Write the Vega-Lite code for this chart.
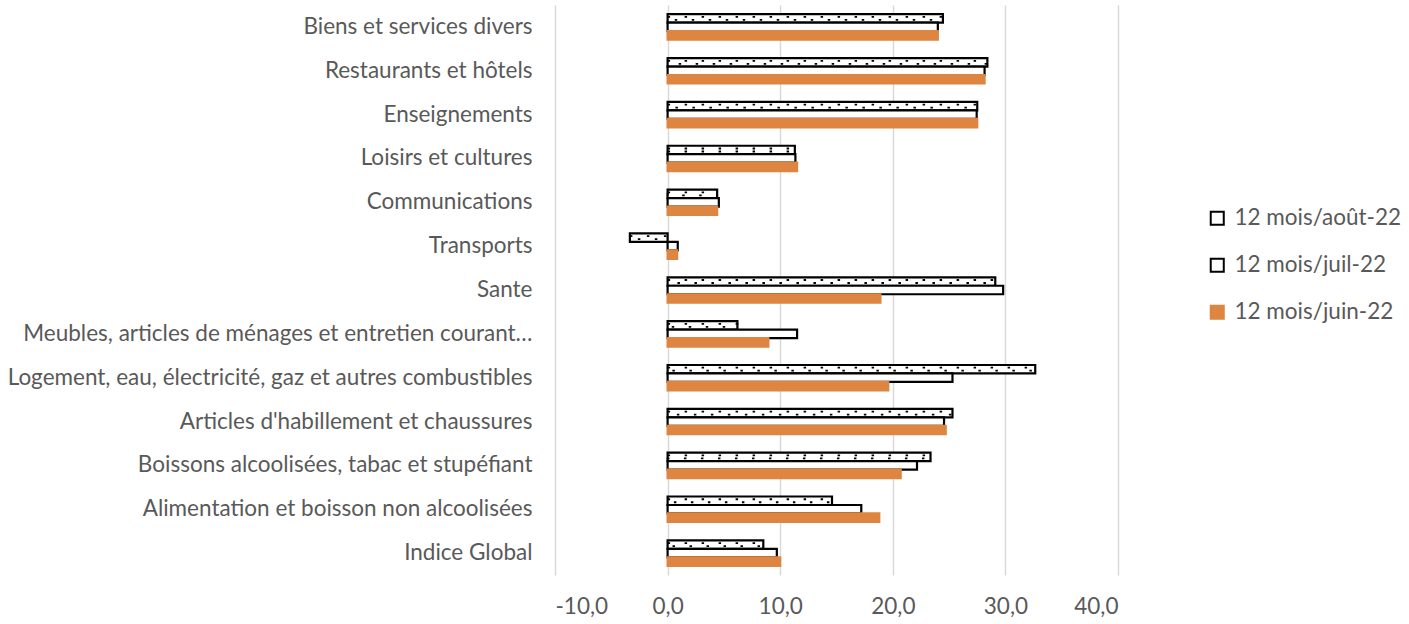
{
  "$schema": "https://vega.github.io/schema/vega-lite/v6.json",
  "autosize": {"type": "none"},
  "padding": {"left": 555, "top": 5, "right": 291, "bottom": 49},
  "width": 563,
  "height": 570,
  "background": "white",
  "config": {
    "view": {"stroke": null},
    "font": "Lato",
    "axis": {"labelFont": "Lato", "labelColor": "#595959"},
    "legend": {"labelFont": "Lato", "labelColor": "#595959"}
  },
  "data": {
    "values": [
      {"cat": "Biens et services divers", "serie": "12 mois/août-22", "v": 24.45},
      {"cat": "Biens et services divers", "serie": "12 mois/juil-22", "v": 24.0},
      {"cat": "Biens et services divers", "serie": "12 mois/juin-22", "v": 24.0},
      {"cat": "Restaurants et hôtels", "serie": "12 mois/août-22", "v": 28.4},
      {"cat": "Restaurants et hôtels", "serie": "12 mois/juil-22", "v": 28.15},
      {"cat": "Restaurants et hôtels", "serie": "12 mois/juin-22", "v": 28.15},
      {"cat": "Enseignements", "serie": "12 mois/août-22", "v": 27.5},
      {"cat": "Enseignements", "serie": "12 mois/juil-22", "v": 27.45},
      {"cat": "Enseignements", "serie": "12 mois/juin-22", "v": 27.5},
      {"cat": "Loisirs et cultures", "serie": "12 mois/août-22", "v": 11.3},
      {"cat": "Loisirs et cultures", "serie": "12 mois/juil-22", "v": 11.35},
      {"cat": "Loisirs et cultures", "serie": "12 mois/juin-22", "v": 11.5},
      {"cat": "Communications", "serie": "12 mois/août-22", "v": 4.4},
      {"cat": "Communications", "serie": "12 mois/juil-22", "v": 4.55},
      {"cat": "Communications", "serie": "12 mois/juin-22", "v": 4.4},
      {"cat": "Transports", "serie": "12 mois/août-22", "v": -3.35},
      {"cat": "Transports", "serie": "12 mois/juil-22", "v": 0.9},
      {"cat": "Transports", "serie": "12 mois/juin-22", "v": 0.85},
      {"cat": "Sante", "serie": "12 mois/août-22", "v": 29.1},
      {"cat": "Sante", "serie": "12 mois/juil-22", "v": 29.8},
      {"cat": "Sante", "serie": "12 mois/juin-22", "v": 18.9},
      {"cat": "Meubles, articles de ménages et entretien courant…", "serie": "12 mois/août-22", "v": 6.2},
      {"cat": "Meubles, articles de ménages et entretien courant…", "serie": "12 mois/juil-22", "v": 11.5},
      {"cat": "Meubles, articles de ménages et entretien courant…", "serie": "12 mois/juin-22", "v": 8.95},
      {"cat": "Logement, eau, électricité, gaz et autres combustibles", "serie": "12 mois/août-22", "v": 32.65},
      {"cat": "Logement, eau, électricité, gaz et autres combustibles", "serie": "12 mois/juil-22", "v": 25.3},
      {"cat": "Logement, eau, électricité, gaz et autres combustibles", "serie": "12 mois/juin-22", "v": 19.6},
      {"cat": "Articles d'habillement et chaussures", "serie": "12 mois/août-22", "v": 25.3},
      {"cat": "Articles d'habillement et chaussures", "serie": "12 mois/juil-22", "v": 24.55},
      {"cat": "Articles d'habillement et chaussures", "serie": "12 mois/juin-22", "v": 24.7},
      {"cat": "Boissons alcoolisées, tabac et stupéfiant", "serie": "12 mois/août-22", "v": 23.35},
      {"cat": "Boissons alcoolisées, tabac et stupéfiant", "serie": "12 mois/juil-22", "v": 22.15},
      {"cat": "Boissons alcoolisées, tabac et stupéfiant", "serie": "12 mois/juin-22", "v": 20.7},
      {"cat": "Alimentation et boisson non alcoolisées", "serie": "12 mois/août-22", "v": 14.6},
      {"cat": "Alimentation et boisson non alcoolisées", "serie": "12 mois/juil-22", "v": 17.2},
      {"cat": "Alimentation et boisson non alcoolisées", "serie": "12 mois/juin-22", "v": 18.8},
      {"cat": "Indice Global", "serie": "12 mois/août-22", "v": 8.5},
      {"cat": "Indice Global", "serie": "12 mois/juil-22", "v": 9.7},
      {"cat": "Indice Global", "serie": "12 mois/juin-22", "v": 10.0}
    ]
  },
  "encoding": {
    "y": {
      "field": "cat",
      "type": "nominal",
      "sort": null,
      "scale": {"paddingInner": 0.42, "paddingOuter": 0.21},
      "axis": {"title": null, "domain": false, "ticks": false, "labelPadding": 23, "labelFontSize": 22.5, "labelLimit": 800}
    },
    "yOffset": {
      "field": "serie",
      "type": "nominal",
      "sort": ["12 mois/août-22", "12 mois/juil-22", "12 mois/juin-22"],
      "scale": {"domain": ["12 mois/août-22", "12 mois/juil-22", "12 mois/juin-22"], "paddingInner": 0, "paddingOuter": 0}
    },
    "x": {
      "field": "v",
      "type": "quantitative",
      "scale": {"domain": [-10, 40], "nice": false, "zero": false},
      "axis": {
        "title": null,
        "values": [-10, 0, 10, 20, 30, 40],
        "labelExpr": "replace(replace(format(datum.value, '.1f'), '.', ','), '\u2212', '-')",
        "domain": false,
        "ticks": false,
        "grid": true,
        "gridColor": "#d9d9d9",
        "gridWidth": 1.5,
        "labelPadding": 20,
        "labelFontSize": 22.5
      }
    }
  },
  "layer": [
    {
      "mark": {"type": "bar", "strokeWidth": 2.2},
      "encoding": {
        "fill": {
          "field": "serie",
          "type": "nominal",
          "scale": {"domain": ["12 mois/août-22", "12 mois/juil-22", "12 mois/juin-22"], "range": ["white", "white", "#DD8541"]},
          "legend": {
            "title": null,
            "orient": "none",
            "legendX": 651,
            "legendY": 202,
            "symbolType": "square",
            "symbolSize": 170,
            "symbolStrokeWidth": 2,
            "labelFontSize": 22.5,
            "labelLimit": 400,
            "rowPadding": 24,
            "labelOffset": 6
          }
        },
        "stroke": {
          "field": "serie",
          "type": "nominal",
          "scale": {"domain": ["12 mois/août-22", "12 mois/juil-22", "12 mois/juin-22"], "range": ["black", "black", "#DD8541"]},
          "legend": null
        }
      }
    },
    {
      "transform": [{"filter": "datum.serie == '12 mois/août-22'"}],
      "mark": {"type": "bar", "size": 3, "fill": null, "fillOpacity": 0, "stroke": "black", "strokeWidth": 1.8, "strokeDash": [2.5, 14.5]},
      "encoding": {}
    }
  ]
}
